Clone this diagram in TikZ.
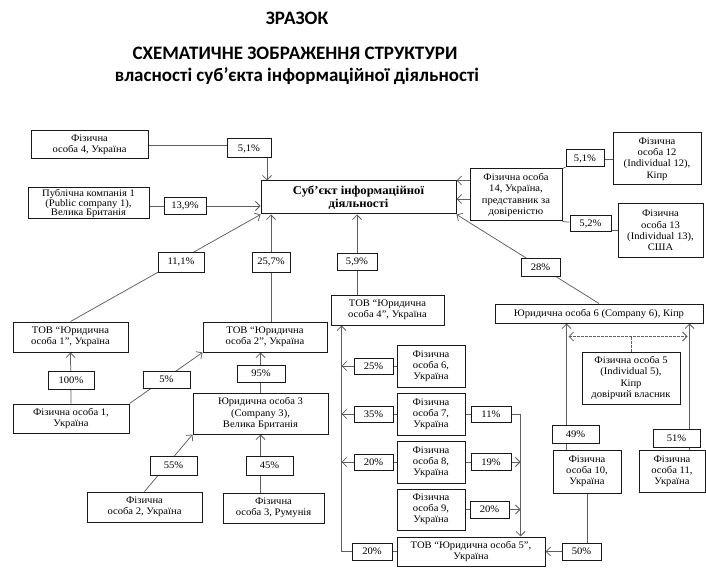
\documentclass[tikz,border=0pt]{standalone}
\usepackage{fontspec}
\setmainfont{Liberation Serif}[FakeStretch=1.06]
\newfontfamily\headfont{Carlito}
\usepackage{tikz}
\usetikzlibrary{arrows.meta, positioning, backgrounds}
\definecolor{LineGray}{RGB}{95,95,95}
\definecolor{BoxBlack}{RGB}{25,25,25}

\begin{document}
\begin{tikzpicture}[
  x=1pt, y=-1pt,
  box/.style={draw=BoxBlack, line width=1pt, fill=white, align=center, inner sep=1pt,
              font=\fontsize{10}{11.2}\selectfont},
  pct/.style={box, minimum width=40, minimum height=17},
  arr/.style={-{Straight Barb[length=4.5pt, width=9pt]}},
  conn/.style={draw=LineGray, line width=0.75pt},
  head/.style={font=\headfont\bfseries\fontsize{19}{22}\selectfont},
  node distance=5pt,
]
\useasboundingbox (0,0) rectangle (706,577);
%% Title
\node[head] (ttl1) at (297,18) {ЗРАЗОК};
\node[head] (ttl2) at (295,53) {СХЕМАТИЧНЕ ЗОБРАЖЕННЯ СТРУКТУРИ};
\node[head] (ttl3) at (297,76) {власності суб’єкта інформаційної діяльності};
%% Subject
\node[box, font=\bfseries\fontsize{12}{12.5}\selectfont, minimum width=195, minimum height=33]
  (subj) at (358.5,197.5) {Суб’єкт інформаційної\\діяльності};
%% Top left owners
\node[box, minimum width=117, minimum height=28] (fo4) at (89.5,145) {Фізична\\особа 4, Україна};
\node[pct, minimum width=44, minimum height=19] (p51a) at (249,148.5) {5,1\%};
\node[box, font=\fontsize{10}{9.8}\selectfont, minimum width=121, minimum height=31]
  (pc1) at (88.5,203.5) {Публічна компанія 1\\(Public company 1),\\Велика Британія};
\node[pct, minimum width=42, minimum height=17] (p139) at (185,206) {13,9\%};
%% Top right owners
\node[box, minimum width=92, minimum height=52] (fo14) at (516,195) {Фізична особа\\14, Україна,\\представник за\\довіреністю};
\node[box, minimum width=88, minimum height=52] (fo12) at (657,159) {Фізична\\особа 12\\(Individual 12),\\Кіпр};
\node[pct, minimum width=38] (p51b) at (585,158.5) {5,1\%};
\node[box, minimum width=85, minimum height=53] (fo13) at (660.5,230.5) {Фізична\\особа 13\\(Individual 13),\\США};
\node[pct, minimum width=41, minimum height=16] (p52) at (590.5,224) {5,2\%};
%% Second tier
\node[pct, minimum width=46, minimum height=20] (p111) at (181,262) {11,1\%};
\node[pct, minimum width=38, minimum height=20] (p257) at (271,262) {25,7\%};
\node[pct] (p59) at (357,261.5) {5,9\%};
\node[pct, minimum width=39, minimum height=18] (p28) at (540.5,267) {28\%};
\node[box, minimum width=115, minimum height=30] (tov1) at (70.5,337) {ТОВ “Юридична\\особа 1”, Україна};
\node[box, minimum width=124, minimum height=30] (tov2) at (265,337) {ТОВ “Юридична\\особа 2”, Україна};
\node[box, minimum width=113, minimum height=30] (tov4) at (387.5,310) {ТОВ “Юридична\\особа 4”, Україна};
\node[box, minimum width=208, minimum height=19] (co6) at (599,313.5) {Юридична особа 6 (Company 6), Кіпр};
%% Bottom left
\node[pct, minimum width=46, minimum height=18] (p100) at (71,380) {100\%};
\node[pct, minimum width=47] (p5) at (166.5,379.5) {5\%};
\node[pct, minimum width=48] (p95) at (261,373.5) {95\%};
\node[box, minimum width=116, minimum height=29] (fo1) at (71,418.5) {Фізична особа 1,\\Україна};
\node[box, minimum width=135, minimum height=41] (co3) at (260.5,413.5) {Юридична особа 3\\(Company 3),\\Велика Британія};
\node[pct, minimum width=47, minimum height=19] (p55) at (173.5,465.5) {55\%};
\node[pct, minimum width=47, minimum height=19] (p45) at (269.5,465.5) {45\%};
\node[box, minimum width=115, minimum height=30] (fo2) at (144.5,507) {Фізична\\особа 2, Україна};
\node[box, minimum width=101, minimum height=30] (fo3) at (273.5,508) {Фізична\\особа 3, Румунія};
%% Middle column
\node[box, minimum width=68, minimum height=42] (fo6) at (431,366) {Фізична\\особа 6,\\Україна};
\node[box, minimum width=68, minimum height=42, below=of fo6] (fo7) {Фізична\\особа 7,\\Україна};
\node[box, minimum width=68, minimum height=42, below=of fo7] (fo8) {Фізична\\особа 8,\\Україна};
\node[box, minimum width=68, minimum height=41, below=of fo8] (fo9) {Фізична\\особа 9,\\Україна};
\node[pct, minimum width=39, minimum height=16, left=3pt of fo6] (p25) {25\%};
\node[pct, minimum width=39, minimum height=16, left=3pt of fo7] (p35) {35\%};
\node[pct, minimum width=39, minimum height=16, left=3pt of fo8] (p20a) {20\%};
\node[pct, minimum width=40, minimum height=16, right=of fo7] (p11) {11\%};
\node[pct, minimum width=40, right=of fo8] (p19) {19\%};
\node[pct, minimum width=39, right=4pt of fo9] (p20b) {20\%};
\node[box, minimum width=148, minimum height=29] (tov5) at (471,551.5) {ТОВ “Юридична особа 5”,\\Україна};
\node[pct, left=4pt of tov5] (p20c) {20\%};
\node[pct, minimum width=39, right=16pt of tov5] (p50) {50\%};
%% Bottom right
\node[box, minimum width=98, minimum height=52] (fo5) at (631,378) {Фізична особа 5\\(Individual 5),\\Кіпр\\довірчий власник};
\node[pct, minimum width=47, minimum height=18] (p49) at (575.5,434) {49\%};
\node[pct, minimum width=47, minimum height=18] (p51c) at (676.5,438) {51\%};
\node[box, minimum width=68, minimum height=43] (fo10) at (587,471.5) {Фізична\\особа 10,\\Україна};
\node[box, minimum width=66, minimum height=42] (fo11) at (672,471) {Фізична\\особа 11,\\Україна};
%% Helper points
\coordinate (vl) at ([xshift=11pt]tov4.south west);
\coordinate (vr) at ([xshift=-25pt]tov5.north east);
\coordinate (v10) at ([xshift=14pt]fo10.north west);
\coordinate (v11) at ([xshift=-16pt]fo11.north east);
\coordinate (dd) at ([yshift=15pt]fo5.north);
%% Connectors
\begin{scope}[on background layer]
\fill[white] (0,0) rectangle (706,577);
\draw[conn] (fo4.east) -- (fo4.east -| p51a);
\draw[conn, arr] ([xshift=18pt]p51a.center) -- ([xshift=18pt]p51a.center |- subj.north);
\draw[conn] (pc1.east |- p139) -- (p139);
\draw[conn, arr] (p139) -- (p139 -| subj.west);
\draw[conn, arr] (tov1.north) -- (subj.south west);
\draw[conn, arr] (tov2.north -| p257) -- (p257 |- subj.south);
\draw[conn, arr] (tov4.north -| p59) -- (p59 |- subj.south);
\draw[conn, arr] (co6.north) -- (subj.south east);
\draw[conn, arr] ([yshift=-12pt]fo14.north west) -- ([yshift=-12pt]fo14.north west -| subj.east);
\draw[conn, arr] ([yshift=-4pt]fo14.west) -- ([yshift=-4pt]fo14.west -| subj.east);
\draw[conn] (fo12.west) -- (fo12.west -| p51b);
\draw[conn] (p51b) -- (fo14.north east);
\draw[conn] (fo13.west) -- (fo13.west -| p52);
\draw[conn] (p52) -- (fo14.south east);
%% left tree
\draw[conn, arr] (fo1.north) -- (tov1.south);
\draw[conn, arr] (fo1.north east) -- (tov2.south west);
\draw[conn, arr] (co3.north) -- (co3.north |- tov2.south);
\draw[conn, arr] (fo2.north) -- (co3.south west);
\draw[conn, arr] (fo3.north -| co3.south) -- (co3.south);
%% middle tree
\draw[conn] (tov5.west) -- (p20c);
\draw[conn, arr] (p20c) -| (vl);
\draw[conn] (fo6) -- (p25);
\draw[conn, arr] (p25) -- (p25 -| vl);
\draw[conn] (fo7) -- (p35);
\draw[conn, arr] (p35) -- (p35 -| vl);
\draw[conn] (fo8) -- (p20a);
\draw[conn, arr] (p20a) -- (p20a -| vl);
\draw[conn] (fo7) -- (p11);
\draw[conn, arr] (p11) -| (vr);
\draw[conn] (fo8) -- (p19);
\draw[conn, arr] (p19) -- (p19 -| vr);
\draw[conn] (fo9) -- (p20b);
\draw[conn, arr] (p20b) -- (p20b -| vr);
%% right tree
\draw[conn, arr] (v10) -- (v10 |- co6.south);
\draw[conn, arr] (v11) -- (v11 |- co6.south);
\draw[conn, dash pattern=on 2.5pt off 1.5pt, shorten <=2pt, shorten >=2pt,
      {Straight Barb[length=4.5pt, width=9pt]}-{Straight Barb[length=4.5pt, width=9pt]}]
  (v10 |- dd) -- (v11 |- dd);
\draw[conn, dash pattern=on 2.5pt off 1.5pt] (fo5.north) -- (dd);
\draw[conn] (fo10.south) -- (fo10.south |- p50.north);
\draw[conn, arr] (p50) -- (p50 -| tov5.east);
\end{scope}
\end{tikzpicture}
\end{document}
